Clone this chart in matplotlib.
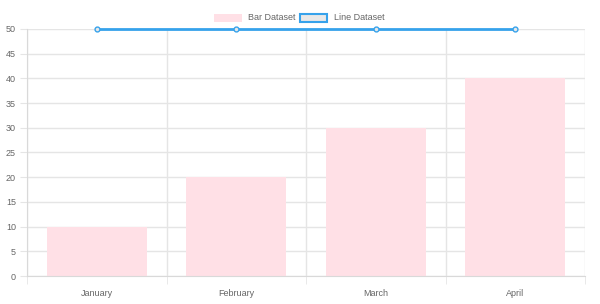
import matplotlib.pyplot as plt
from matplotlib.patches import Rectangle

plt.rcParams['font.family'] = ['Liberation Sans', 'DejaVu Sans']

labels = ['January', 'February', 'March', 'April']
bar_values = [10, 20, 30, 40]
line_values = [50, 50, 50, 50]

bar_color = '#ffe0e6'
line_color = '#36a2eb'
grid_color = '#e5e5e5'
text_color = '#666666'
fsize = 6.5

fig = plt.figure(figsize=(6, 3.04), dpi=100)
ax = fig.add_axes([0.045, 0.092, 0.93, 0.813])

x = list(range(len(labels)))
ax.bar(x, bar_values, width=0.72, color=bar_color, zorder=2)
ax.plot(x, line_values, color=line_color, linewidth=2, marker='o', markersize=3.5,
        markerfacecolor='#e8e8e8', markeredgecolor=line_color, markeredgewidth=1,
        zorder=3, clip_on=False)

ax.set_xlim(-0.5, len(labels) - 0.5)
ax.set_ylim(0, 50)
ax.set_yticks(range(0, 51, 5))
ax.set_xticks(x)
ax.set_xticklabels(labels)
ax.set_xticks([i - 0.5 for i in range(len(labels) + 1)], minor=True)

ax.grid(axis='y', color=grid_color, linewidth=1, zorder=0)
ax.grid(axis='x', which='minor', color=grid_color, linewidth=1, zorder=0)
ax.tick_params(axis='x', which='major', length=0, labelsize=fsize, labelcolor=text_color, pad=9)
ax.tick_params(axis='x', which='minor', length=6, color=grid_color)
ax.tick_params(axis='y', length=5, color=grid_color, labelsize=fsize, labelcolor=text_color, pad=3)
for s in ['top', 'right']:
    ax.spines[s].set_visible(False)
for s in ['left', 'bottom']:
    ax.spines[s].set_color('#d9d9d9')

# legend drawn like chart.js boxes
fig.patches.append(Rectangle((214 / 600, 1 - 22 / 304), 28 / 600, 8 / 304,
                             transform=fig.transFigure, facecolor=bar_color, edgecolor='none'))
fig.text(248 / 600, 1 - 18 / 304, 'Bar Dataset', fontsize=fsize, color=text_color, va='center')
fig.patches.append(Rectangle((300 / 600, 1 - 22 / 304), 27 / 600, 8 / 304,
                             transform=fig.transFigure, facecolor='#e8e8e8',
                             edgecolor=line_color, linewidth=1.5))
fig.text(334 / 600, 1 - 18 / 304, 'Line Dataset', fontsize=fsize, color=text_color, va='center')

fig.savefig('out.png', dpi=100)
